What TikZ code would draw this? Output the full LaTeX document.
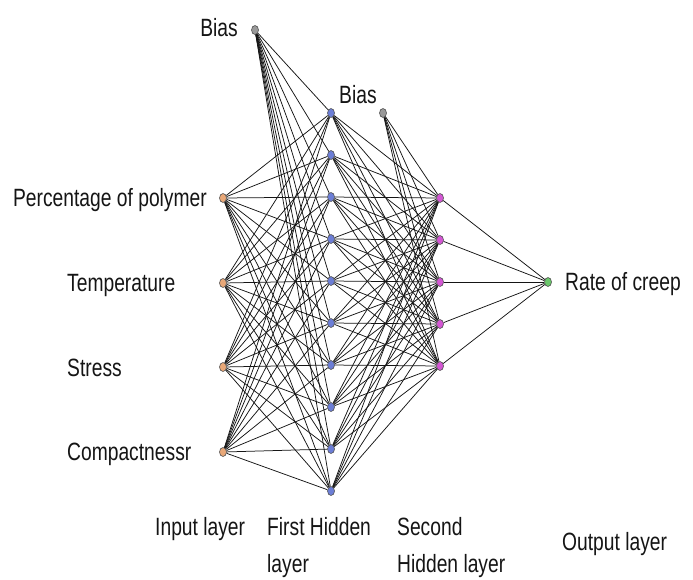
\documentclass[tikz,border=0pt]{standalone}
\usepackage{fontspec}
\setmainfont{Liberation Sans}
\newfontfamily\narrowsans[FakeStretch=0.77]{Liberation Sans}
\usetikzlibrary{shapes.geometric}
\definecolor{netink}{HTML}{151515}
\definecolor{inputfill}{HTML}{E9A878}
\definecolor{firstfill}{HTML}{6C7ED6}
\definecolor{secondfill}{HTML}{D457D4}
\definecolor{outputfill}{HTML}{6CC86C}
\definecolor{biasfill}{HTML}{9A9A9A}

\begin{document}
\begin{tikzpicture}[x=1pt, y=-1pt,
                    every node/.style={netink},
                    neuron/.style={ellipse, draw=netink!75, line width=0.6pt,
                                   inner sep=0pt, minimum width=7pt, minimum height=9pt},
                    tag/.style={font=\narrowsans\fontsize{25}{28}\selectfont, inner sep=0pt},
                    wire/.style={netink, line width=0.75pt}]

\useasboundingbox (0,0) rectangle (693,579);

%% ==== neurons ======================================================
\node[neuron, fill=biasfill] (biasa) at (255,30) {};
\node[neuron, fill=biasfill] (biasb) at (383,113) {};

\foreach \y [count=\i] in {198,283,367,452}
  \node[neuron, fill=inputfill] (in\i) at (223,\y) {};

\foreach \i in {1,...,10}
  \node[neuron, fill=firstfill] (ha\i) at (331,{113+42*(\i-1)}) {};

\foreach \i in {1,...,5}
  \node[neuron, fill=secondfill] (hb\i) at (440,{198+42*(\i-1)}) {};

\node[neuron, fill=outputfill] (out) at (548,282) {};

%% ==== weights ======================================================
\foreach \j in {1,...,10} {
  \draw[wire] (biasa) -- (ha\j);
  \foreach \i in {1,...,4}
    \draw[wire] (in\i) -- (ha\j);
  \foreach \k in {1,...,5}
    \draw[wire] (ha\j) -- (hb\k);
}
\foreach \k in {1,...,5} {
  \draw[wire] (biasb) -- (hb\k);
  \draw[wire] (hb\k) -- (out);
}

%% ==== labels =======================================================
\node[tag, anchor=base east] (biasatext) at (238,36) {Bias};
\node[tag, anchor=base west] (biasbtext) at (339,103) {Bias};

\node[tag, anchor=base east] (intext1) at (207,206) {Percentage of polymer};
\node[tag, anchor=base west] (intext2) at (67,291) {Temperature};
\node[tag, anchor=base west] (intext3) at (67,376) {Stress};
\node[tag, anchor=base west] (intext4) at (67,460) {Compactnessr};

\node[tag, anchor=base west] (outtext) at (565,290) {Rate of creep};

%% layer names along the bottom
\node[tag, anchor=base west] (layerin)  at (155,535) {Input layer};
\node[tag, anchor=base west] (layerha)  at (267,535) {First Hidden};
\node[tag, anchor=base west] (layerhax) at (267,572) {layer};
\node[tag, anchor=base west] (layerhb)  at (397,535) {Second};
\node[tag, anchor=base west] (layerhbx) at (397,572) {Hidden layer};
\node[tag, anchor=base west] (layerout) at (562,550) {Output layer};

\end{tikzpicture}
\end{document}
